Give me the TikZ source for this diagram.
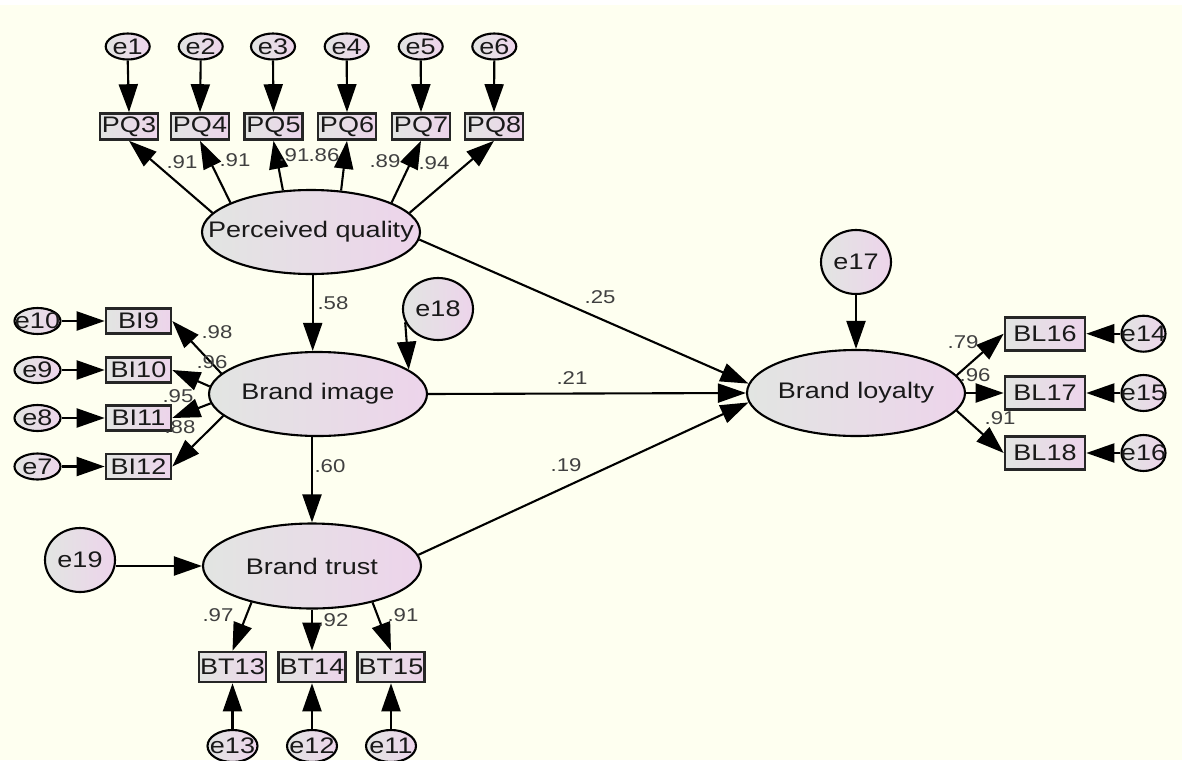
\documentclass[tikz,border=0pt]{standalone}
\usepackage{fontspec}
\setmainfont{Liberation Sans}
\usepackage{graphicx}
\usetikzlibrary{arrows.meta,shapes.geometric}
\definecolor{paper}{RGB}{254,255,240}
\definecolor{shadeL}{RGB}{226,229,226}
\definecolor{shadeR}{RGB}{237,212,235}
\newcommand\wtext[1]{\scalebox{1.2}[1]{#1}}
\newcommand\ztext[1]{\makebox[0pt]{\wtext{#1}}}

\begin{document}
\begin{tikzpicture}[x=1pt,y=-1pt,
  lat/.style={ellipse, draw=black, line width=2.1pt, left color=shadeL, right color=shadeR,
    inner sep=0pt, font=\fontsize{22.5}{24}\selectfont, text=black!90},
  errv/.style={lat, minimum width=44pt, minimum height=26pt},
  errbig/.style={lat, minimum width=70pt, minimum height=64pt},
  obs/.style={rectangle, draw=black!85, line width=2.6pt, left color=shadeL, right color=shadeR,
    inner sep=0pt, font=\fontsize{22.5}{24}\selectfont, text=black!90},
  arr/.style={line width=2.1pt, draw=black, -{Triangle[length=28pt,width=19pt]}},
  coef/.style={font=\fontsize{18.5}{20}\selectfont, text=black!75, inner sep=0pt}]

\useasboundingbox (0,0) rectangle (1182,760);
\clip (0,0) rectangle (1182,760);
\fill[white] (0,0) rectangle (1182,760);
\fill[paper] (0,5) rectangle (1182,760);

% latent constructs
\node[lat, minimum width=218pt, minimum height=84pt] (pq) at (311,232) {\ztext{Perceived quality}};
\node[lat, minimum width=218pt, minimum height=84pt] (bi) at (318,394) {\ztext{Brand image}};
\node[lat, minimum width=218pt, minimum height=85pt] (bt) at (312,566) {\ztext{Brand trust}};
\node[lat, minimum width=218pt, minimum height=86pt] (bl) at (856,393) {\ztext{Brand loyalty}};

% structural disturbances
\node[errbig] (e17) at (856,262) {\ztext{e17}};
\node[errbig, minimum height=62pt] (e18) at (438,309) {\ztext{e18}};
\node[errbig] (e19) at (80,560) {\ztext{e19}};

% perceived quality indicators
\foreach \i/\x in {1/127.7,2/200.7,3/273,4/346.7,5/420.7,6/494.3}{
  \node[errv] (e\i) at (\x,46.5) {\ztext{e\i}};
}
\foreach \i/\x in {3/129,4/200,5/273.5,6/347,7/421,8/494}{
  \node[obs, minimum width=58pt, minimum height=26pt] (pq\i) at (\x,126.5) {\wtext{PQ\i}};
}

% brand image indicators
\foreach \i/\e/\y in {9/10/321,10/9/370,11/8/418,12/7/466.5}{
  \node[obs, minimum width=65pt, minimum height=25pt] (bi\i) at (138.5,\y) {\wtext{BI\i}};
  \node[errv, minimum width=46pt] (e\e) at (37.5,\y) {\ztext{e\e}};
}

% brand trust indicators
\foreach \i/\e/\x in {13/13/232.5,14/12/312,15/11/391}{
  \node[obs, minimum width=67pt, minimum height=30pt] (bt\i) at (\x,667) {\wtext{BT\i}};
  \node[errv, minimum width=50pt, minimum height=32pt] (e\e) at (\x,746) {\ztext{e\e}};
}

% brand loyalty indicators
\foreach \i/\e/\y in {16/14/333.7,17/15/393,18/16/453}{
  \node[obs, minimum width=80pt, minimum height=33pt] (bl\i) at (1045,\y) {\wtext{BL\i}};
  \node[errv, minimum height=36pt] (e\e) at (1143.5,\y) {\ztext{e\e}};
}

% error terms to indicators
\foreach \i/\b in {1/3,2/4,3/5,4/6,5/7,6/8}{
  \draw[arr] (e\i.south) -- (pq\b.north);
}
\foreach \e/\b in {10/9,9/10,8/11,7/12}{
  \draw[arr] (e\e.east) -- (bi\b.west);
}
\foreach \e/\b in {13/13,12/14,11/15}{
  \draw[arr] (e\e.north) -- (bt\b.south);
}
\foreach \e/\b in {14/16,15/17,16/18}{
  \draw[arr] (e\e.west) -- (bl\b.east);
}

% loadings
\draw[arr] (pq.169) -- (pq3.south);
\draw[arr] (pq.160) -- (pq4.south);
\draw[arr] (pq.124) -- (pq5.south);
\draw[arr] (pq.54) -- (pq6.south);
\draw[arr] (pq.20) -- (pq7.south);
\draw[arr] (pq.11) -- (pq8.south);

\draw[arr] (bi.168) -- (bi9.east);
\draw[arr] (bi.176) -- (bi10.east);
\draw[arr] (bi.185) -- (bi11.east);
\draw[arr] (bi.193) -- (bi12.east);

\draw[arr] (bt.211) -- (bt13.north);
\draw[arr] (bt.south) -- (bt14.north);
\draw[arr] (bt.329) -- (bt15.north);

\draw[arr] (bl.10) -- (bl16.west);
\draw[arr] (bl.east) -- (bl17.west);
\draw[arr] (bl.350) -- (bl18.west);

% structural paths
\draw[arr] (pq.south -| 312.7,0) -- (bi.north -| 312.7,0);
\draw[arr] (bi.south -| bt.north) -- (bt.north);
\draw[arr] (bi.east) -- (bl.west);
\draw[arr] (pq.-4) -- (bl.175);
\draw[arr] (bt.6) -- (bl.185);
\draw[arr] (e17.south) -- (bl.north);
\draw[arr] (e18.202) -- (bi.15);
\draw[arr] (e19.east |- bt.west) -- (bt.west);

% coefficients
\node[coef] (c1) at (182,162) {\wtext{.91}};
\node[coef] (c2) at (235,160) {\wtext{.91}};
\node[coef] (c3) at (294,155) {\wtext{.91}};
\node[coef] (c4) at (324,155) {\wtext{.86}};
\node[coef] (c5) at (385,161.5) {\wtext{.89}};
\node[coef] (c6) at (434,163) {\wtext{.94}};

\node[coef] (c7) at (217,332) {\wtext{.98}};
\node[coef] (c8) at (212,362) {\wtext{.96}};
\node[coef] (c9) at (178,396) {\wtext{.95}};
\node[coef] (c10) at (180,427) {\wtext{.88}};

\node[coef] (c11) at (218,615) {\wtext{.97}};
\node[coef] (c12) at (333,620) {\wtext{.92}};
\node[coef] (c13) at (403,615) {\wtext{.91}};

\node[coef] (c14) at (963,342) {\wtext{.79}};
\node[coef] (c15) at (975,375) {\wtext{.96}};
\node[coef] (c16) at (1000,418) {\wtext{.91}};

\node[coef] (c17) at (333,303) {\wtext{.58}};
\node[coef] (c18) at (330,466) {\wtext{.60}};
\node[coef] (c19) at (600,297) {\wtext{.25}};
\node[coef] (c20) at (572,378) {\wtext{.21}};
\node[coef] (c21) at (566,465) {\wtext{.19}};
\end{tikzpicture}
\end{document}
